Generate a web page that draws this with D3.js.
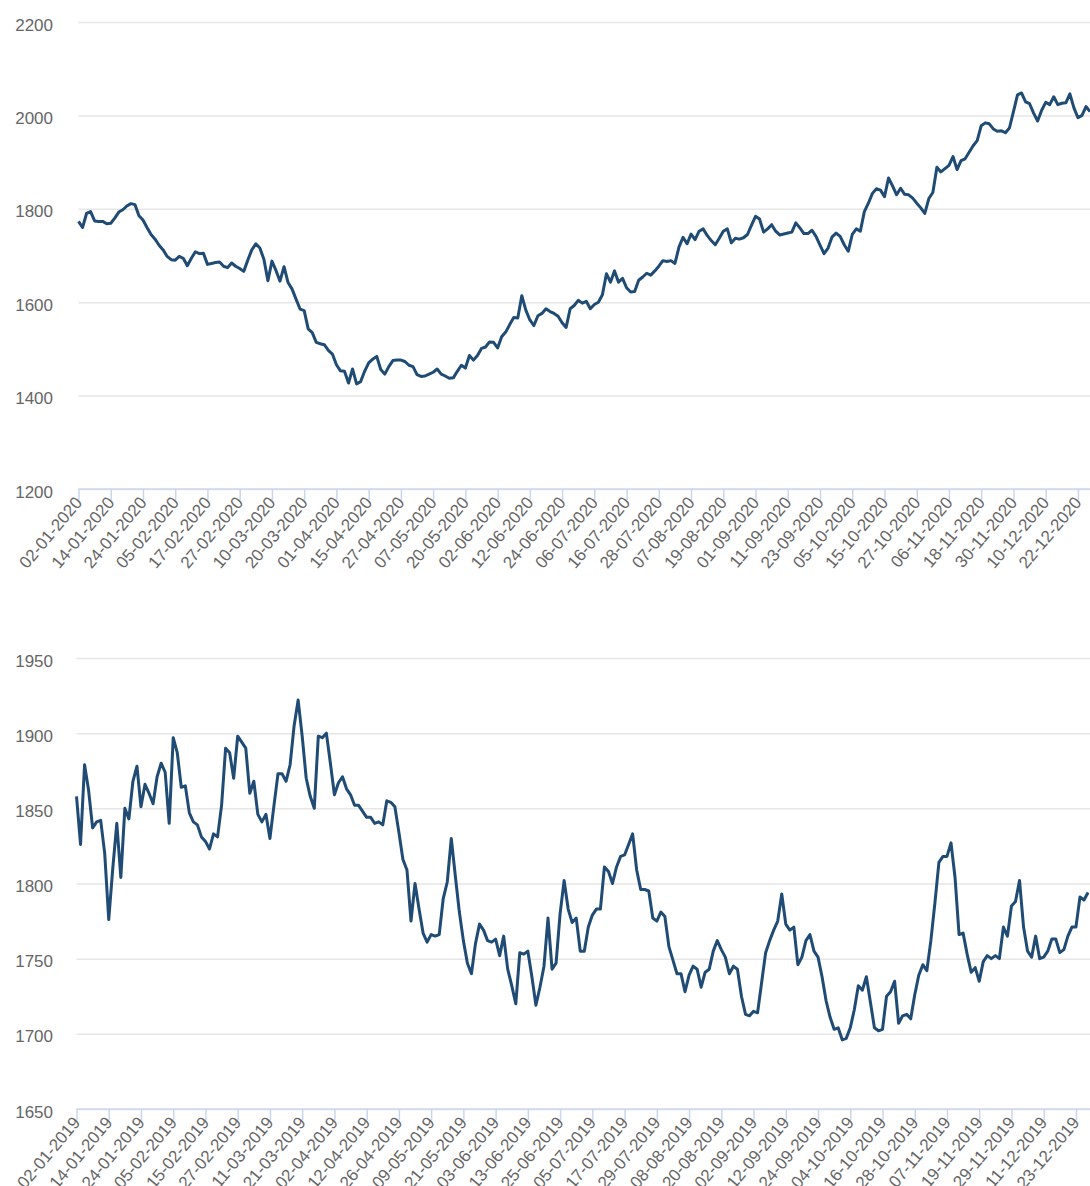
<!DOCTYPE html>
<html>
<head>
<meta charset="utf-8">
<title>Closing price 2020 and 2019</title>
<script src="https://cdn.jsdelivr.net/npm/d3@7/dist/d3.min.js"></script>
<style>
    body { margin: 0; background: #fff; overflow: hidden; }
    .gridLines line { stroke: #e6e6e6; stroke-width: 1.5; }
    .gridLines path { display: none; }
    .gridLines text, .xAxis text {
        fill: #666666;
        font-family: "Liberation Sans", Arial, sans-serif;
        font-size: 17px;
    }
    .xAxis path, .xAxis line { stroke: #ccd6eb; stroke-width: 1.5; }
    .priceLine { fill: none; stroke: #1f4b74; stroke-width: 3; stroke-linejoin: round; }
</style>
</head>
<body>
<script>
//tick labels shown on the x axis (one every 8 trading days)
var tickLabels2020 = ["02-01-2020","14-01-2020","24-01-2020","05-02-2020","17-02-2020","27-02-2020",
    "10-03-2020","20-03-2020","01-04-2020","15-04-2020","27-04-2020","07-05-2020","20-05-2020",
    "02-06-2020","12-06-2020","24-06-2020","06-07-2020","16-07-2020","28-07-2020","07-08-2020",
    "19-08-2020","01-09-2020","11-09-2020","23-09-2020","05-10-2020","15-10-2020","27-10-2020",
    "06-11-2020","18-11-2020","30-11-2020","10-12-2020","22-12-2020"];

var tickLabels2019 = ["02-01-2019","14-01-2019","24-01-2019","05-02-2019","15-02-2019","27-02-2019",
    "11-03-2019","21-03-2019","02-04-2019","12-04-2019","26-04-2019","09-05-2019","21-05-2019",
    "03-06-2019","13-06-2019","25-06-2019","05-07-2019","17-07-2019","29-07-2019","08-08-2019",
    "20-08-2019","02-09-2019","12-09-2019","24-09-2019","04-10-2019","16-10-2019","28-10-2019",
    "07-11-2019","19-11-2019","29-11-2019","11-12-2019","23-12-2019"];

//daily values, one per trading day
var values2020 = [
    1773,1760,1790,1794,1774,1773,1773,1768,1769,1780,
    1793,1798,1806,1811,1809,1785,1776,1760,1745,1735,
    1722,1712,1698,1691,1690,1698,1694,1678,1694,1708,
    1704,1705,1681,1683,1685,1686,1677,1674,1684,1677,
    1672,1666,1690,1712,1725,1716,1692,1646,1688,1668,
    1645,1676,1642,1628,1606,1585,1582,1543,1535,1514,
    1511,1509,1497,1489,1466,1453,1452,1427,1457,1425,
    1430,1452,1470,1478,1484,1456,1446,1462,1475,1476,
    1476,1473,1465,1462,1445,1441,1442,1446,1450,1457,
    1446,1442,1437,1438,1452,1465,1459,1486,1476,1486,
    1501,1504,1515,1514,1502,1526,1536,1552,1567,1566,
    1614,1583,1562,1550,1571,1576,1586,1580,1576,1570,
    1556,1546,1586,1593,1604,1598,1602,1586,1595,1600,
    1616,1661,1643,1667,1643,1651,1631,1622,1623,1647,
    1654,1662,1658,1667,1677,1689,1687,1689,1683,1718,
    1739,1725,1746,1734,1752,1757,1743,1732,1723,1737,
    1752,1757,1727,1737,1735,1738,1745,1765,1784,1778,
    1750,1757,1766,1752,1744,1746,1748,1750,1770,1759,
    1747,1747,1754,1741,1722,1704,1716,1740,1748,1741,
    1723,1709,1745,1757,1752,1794,1812,1833,1843,1840,
    1826,1866,1849,1830,1844,1831,1830,1823,1812,1802,
    1790,1822,1835,1889,1879,1886,1893,1912,1884,1903,
    1907,1921,1935,1946,1978,1984,1982,1971,1966,1967,
    1963,1973,2008,2044,2048,2029,2025,2005,1988,2011,
    2028,2023,2040,2023,2026,2027,2046,2016,1995,2000,
    2019,2008];

var values2019 = [
    1858,1826,1879,1862,1837,1841,1842,1820,1776,1810,
    1840,1804,1850,1843,1868,1878,1851,1866,1860,1853,
    1871,1880,1874,1840,1897,1887,1864,1865,1847,1841,
    1839,1831,1828,1823,1833,1831,1852,1890,1887,1870,
    1898,1894,1890,1860,1868,1846,1841,1846,1830,1852,
    1873,1873,1868,1879,1905,1922,1898,1870,1858,1850,
    1898,1897,1900,1880,1859,1867,1871,1863,1859,1852,
    1852,1848,1844,1844,1840,1841,1839,1855,1854,1851,
    1834,1816,1809,1775,1800,1783,1767,1761,1766,1765,
    1766,1790,1801,1830,1805,1781,1762,1747,1740,1760,
    1773,1769,1762,1761,1763,1752,1765,1743,1732,1720,
    1754,1753,1755,1738,1719,1731,1745,1777,1743,1747,
    1780,1802,1783,1774,1777,1755,1755,1771,1779,1783,
    1783,1811,1808,1800,1811,1818,1819,1826,1833,1809,
    1796,1796,1795,1777,1775,1781,1778,1758,1749,1740,
    1740,1728,1739,1745,1743,1731,1741,1743,1755,1762,
    1756,1751,1740,1745,1743,1725,1713,1712,1715,1714,
    1734,1754,1762,1769,1775,1793,1773,1769,1771,1746,
    1751,1762,1766,1755,1751,1738,1722,1711,1703,1704,
    1696,1697,1704,1716,1732,1729,1738,1721,1704,1702,
    1703,1725,1728,1735,1707,1712,1713,1710,1726,1739,
    1746,1742,1762,1787,1814,1818,1818,1827,1804,1766,
    1767,1753,1741,1744,1735,1748,1752,1750,1752,1750,
    1771,1765,1785,1788,1802,1771,1755,1751,1765,1750,
    1751,1755,1763,1763,1754,1756,1765,1771,1771,1791,
    1789,1794];

//y axis ticks
var yTicks2020 = [1200, 1400, 1600, 1800, 2000, 2200];
var yTicks2019 = [1650, 1700, 1750, 1800, 1850, 1900, 1950];

    //pseudo-global frame settings
var svgWidth = 1090,
    svgHeight = 1186,
    dayStep = 4.03,      //pixels per trading day
    labelRight = 53,     //right edge of y labels
    tickEvery = 8;

var svg = d3.select("body")
    .append("svg")
    .attr("width", svgWidth)
    .attr("height", svgHeight);

drawChart(values2020, tickLabels2020, yTicks2020, {left: 78.5, top: 22, bottom: 489});
drawChart(values2019, tickLabels2019, yTicks2019, {left: 76.5, top: 658, bottom: 1109});

function drawChart(values, tickLabels, yTicks, frame){
    var n = values.length;

    var x = d3.scaleLinear()
        .domain([0, n - 1])
        .range([frame.left, frame.left + (n - 1) * dayStep]);

    var y = d3.scaleLinear()
        .domain([d3.min(yTicks), d3.max(yTicks)])
        .range([frame.bottom, frame.top]);

    //gridlines + y labels
    var grid = svg.append("g")
        .attr("class", "gridLines")
        .attr("transform", "translate(" + frame.left + ",0)")
        .call(d3.axisLeft(y)
            .tickValues(yTicks)
            .tickSize(-(svgWidth - frame.left))
            .tickPadding(frame.left - labelRight)
            .tickFormat(d3.format("d")));
    grid.selectAll("text").attr("dy", "0.47em");

    //x axis with rotated date labels
    var tickIdx = tickLabels.map(function(d, i){ return i * tickEvery; });
    var xAxis = svg.append("g")
        .attr("class", "xAxis")
        .attr("transform", "translate(0," + frame.bottom + ")")
        .call(d3.axisBottom(x)
            .tickValues(tickIdx)
            .tickSize(11)
            .tickSizeOuter(0)
            .tickFormat(function(d, i){ return tickLabels[i]; }));
    xAxis.select(".domain").attr("d", "M" + frame.left + ",0H" + svgWidth);
    xAxis.selectAll("text")
        .attr("x", 0)
        .attr("y", 0)
        .attr("dy", 0)
        .attr("text-anchor", "end")
        .attr("transform", "translate(4,14) rotate(-50)");

    //the price line
    var line = d3.line()
        .x(function(d, i){ return x(i); })
        .y(function(d){ return y(d); });

    svg.append("path")
        .datum(values)
        .attr("class", "priceLine")
        .attr("d", line);
}; //end of drawChart
</script>
</body>
</html>
